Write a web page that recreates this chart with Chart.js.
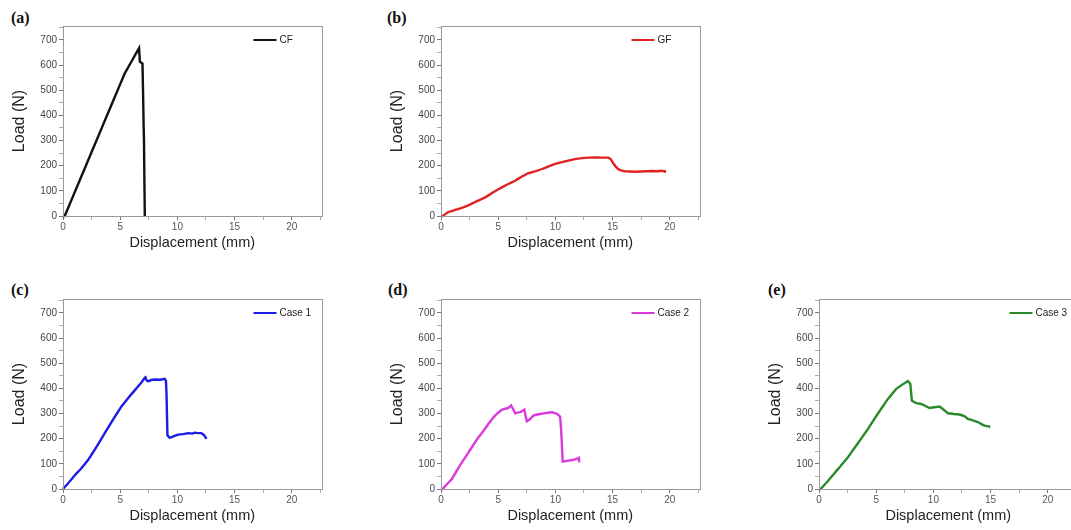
<!DOCTYPE html>
<html>
<head>
<meta charset="utf-8">
<script src="https://cdn.jsdelivr.net/npm/chart.js@4.4.1/dist/chart.umd.min.js"></script>
<style>
  html, body { margin: 0; padding: 0; background: #fff; overflow: hidden; }
  body { width: 1071px; height: 530px; position: relative; }
  canvas { position: absolute; }
  .tag { position: absolute; font: bold 16px "Liberation Serif", "Times New Roman", serif; line-height: 16px; color: #111; }
</style>
</head>
<body>
<div class="tag" style="left:11px;top:10px">(a)</div>
<div class="tag" style="left:387px;top:10px">(b)</div>
<div class="tag" style="left:11px;top:282px">(c)</div>
<div class="tag" style="left:388px;top:282px">(d)</div>
<div class="tag" style="left:768px;top:282px">(e)</div>
<canvas id="chartA" width="335" height="265" style="left:0px;top:0px"></canvas>
<canvas id="chartB" width="335" height="265" style="left:378px;top:0px"></canvas>
<canvas id="chartC" width="335" height="265" style="left:0px;top:273px"></canvas>
<canvas id="chartD" width="335" height="265" style="left:378px;top:273px"></canvas>
<canvas id="chartE" width="335" height="265" style="left:756px;top:273px"></canvas>
<script>
// axis ticks (major get a label, minor only a tick mark)
const dispTicks = [0, 2.5, 5, 7.5, 10, 12.5, 15, 17.5, 20, 22.5];
const dispMajor = [0, 5, 10, 15, 20];
const loadTicks = [0, 50, 100, 150, 200, 250, 300, 350, 400, 450, 500, 550, 600, 650, 700, 750];
const loadMajor = [0, 100, 200, 300, 400, 500, 600, 700];

// (a) CF
const cfX = [0, 0.15, 1, 2, 3, 4, 5, 5.4, 6, 6.65, 6.72, 6.95, 7.0, 7.05, 7.08, 7.12, 7.15];
const cfY = [0, 0, 92, 200, 308, 416, 524, 567, 615, 667, 612, 607, 490, 355, 300, 130, 0];

// (b) GF
const gfX = [0, 0.14, 0.6, 1.25, 2.0, 2.56, 3.2, 3.86, 4.5, 5.17, 5.8, 6.48, 7.0, 7.64, 8.2, 8.8, 9.4, 9.97, 10.5, 11.13, 11.7, 12.3, 12.9, 13.46, 14.0, 14.62, 14.85, 15.05, 15.3, 15.5, 15.8, 16.07, 16.5, 16.95, 17.5, 18.0, 18.4, 19.0, 19.3, 19.56, 19.6];
const gfY = [0, 0, 15, 24, 35, 46, 60, 74, 92, 110, 125, 140, 155, 170, 177, 186, 197, 207, 213, 220, 226, 230, 232, 233, 232, 232, 225, 210, 195, 186, 180, 178, 177, 176, 177, 178, 179, 178, 180, 176, 182];

// (c) Case 1
const c1X = [0, 0.09, 0.5, 1.02, 1.6, 2.19, 2.9, 3.65, 4.4, 5.11, 5.7, 6.27, 6.8, 7.2, 7.3, 7.44, 7.7, 8.02, 8.5, 8.9, 9.0, 9.05, 9.13, 9.34, 9.7, 10.06, 10.5, 10.94, 11.3, 11.52, 11.8, 12.1, 12.35, 12.54];
const c1Y = [0, 5, 25, 54, 82, 115, 165, 222, 278, 328, 362, 392, 420, 445, 432, 428, 433, 435, 434, 438, 430, 378, 213, 203, 210, 216, 218, 222, 220, 224, 222, 222, 213, 199];

// (d) Case 2
const c2X = [0, 0.14, 0.5, 0.96, 1.6, 2.41, 2.9, 3.28, 3.7, 4.15, 4.5, 4.88, 5.32, 5.61, 5.9, 6.13, 6.3, 6.48, 6.92, 7.29, 7.4, 7.5, 7.8, 8.08, 8.4, 8.81, 9.2, 9.68, 10.12, 10.41, 10.5, 10.55, 10.64, 11.13, 11.5, 11.86, 12.06, 12.08];
const c2Y = [0, 0, 18, 40, 90, 146, 180, 206, 230, 259, 280, 299, 315, 319, 322, 332, 318, 301, 305, 315, 290, 269, 278, 292, 296, 299, 302, 305, 299, 288, 240, 193, 109, 113, 115, 120, 124, 106];

// (e) Case 3
const c3X = [0, 0.15, 0.7, 1.3, 1.9, 2.53, 3.1, 3.7, 4.3, 4.86, 5.45, 6.03, 6.76, 7.34, 7.77, 7.98, 8.05, 8.12, 8.51, 8.94, 9.3, 9.67, 10.1, 10.54, 10.83, 11.27, 11.8, 12.29, 12.7, 13.01, 13.5, 13.89, 14.2, 14.47, 14.91, 14.95];
const c3Y = [0, 0, 28, 60, 92, 126, 163, 201, 240, 280, 320, 358, 398, 416, 429, 418, 385, 351, 341, 338, 330, 322, 325, 328, 318, 301, 298, 296, 290, 279, 272, 266, 258, 252, 248, 245];

const SANS = '"Liberation Sans", Arial, sans-serif';
const FRAME = '#9a9a9a';

// box round the plot area (top and right sides too)
const framePlugin = {
    id: 'frame',
    afterDraw(chart) {
        const { ctx, chartArea: a } = chart;
        ctx.save();
        ctx.strokeStyle = FRAME;
        ctx.lineWidth = 1;
        ctx.strokeRect(Math.round(a.left) + 0.5, Math.round(a.top) + 0.5,
            Math.round(a.right - a.left), Math.round(a.bottom - a.top));
        ctx.restore();
    }
};

// small legend in the upper right corner of the plot
const cornerLegend = {
    id: 'cornerLegend',
    afterDraw(chart) {
        const { ctx, chartArea: a } = chart;
        const ds = chart.data.datasets[0];
        const y = a.top + 14;
        ctx.save();
        ctx.strokeStyle = ds.borderColor;
        ctx.lineWidth = 2;
        ctx.beginPath();
        ctx.moveTo(a.right - 68, y);
        ctx.lineTo(a.right - 45, y);
        ctx.stroke();
        ctx.fillStyle = '#222';
        ctx.font = '10px ' + SANS;
        ctx.textBaseline = 'middle';
        ctx.fillText(ds.label, a.right - 42, y);
        ctx.restore();
    }
};

function makeChart(id, label, xs, ys, color) {
    const ctx = document.getElementById(id).getContext('2d');
    return new Chart(ctx, {
        type: 'scatter',
        data: {
            datasets: [{
                label: label,
                data: xs.map((x, i) => ({ x: x, y: ys[i] })),
                showLine: true,
                borderColor: color,
                borderWidth: 2.4,
                pointRadius: 0,
                // tiny tension: keeps straight segments but avoids the fast path
                // that thins out near-vertical drops
                tension: 0.000001,
                clip: false
            }]
        },
        options: {
            responsive: false,
            animation: false,
            layout: { padding: { left: 0, top: 26, right: 13.5, bottom: 0 } },
            plugins: { legend: { display: false }, tooltip: { enabled: false } },
            scales: {
                x: {
                    type: 'linear', min: 0, max: 22.6,
                    afterFit: (s) => { s.height = 49; },
                    afterBuildTicks: (s) => { s.ticks = dispTicks.map(v => ({ value: v })); },
                    ticks: {
                        autoSkip: false, maxRotation: 0, padding: 1,
                        callback: (v) => dispMajor.includes(v) ? String(v) : '',
                        font: { family: SANS, size: 10 }, color: '#555'
                    },
                    grid: {
                        drawOnChartArea: false, tickLength: 4,
                        tickColor: (c) => dispMajor.includes(c.tick && c.tick.value) ? '#777' : '#aaa'
                    },
                    border: { color: FRAME },
                    title: {
                        display: true, text: 'Displacement (mm)', color: '#222',
                        font: { family: SANS, size: 14.5 }, padding: { top: 0, bottom: 13 }
                    }
                },
                y: {
                    type: 'linear', min: 0, max: 755,
                    afterFit: (s) => { s.width = 63; },
                    afterBuildTicks: (s) => { s.ticks = loadTicks.map(v => ({ value: v })); },
                    ticks: {
                        autoSkip: false, padding: 2,
                        callback: (v) => loadMajor.includes(v) ? String(v) : '',
                        font: { family: SANS, size: 10 }, color: '#444'
                    },
                    grid: {
                        drawOnChartArea: false, tickLength: 4,
                        tickColor: (c) => loadMajor.includes(c.tick && c.tick.value) ? '#777' : '#aaa'
                    },
                    border: { color: FRAME },
                    title: {
                        display: true, text: 'Load (N)', color: '#222',
                        font: { family: SANS, size: 16 }, padding: { top: 10, bottom: 0 }
                    }
                }
            }
        },
        plugins: [framePlugin, cornerLegend]
    });
}

makeChart('chartA', 'CF', cfX, cfY, '#111111');
makeChart('chartB', 'GF', gfX, gfY, '#e02222');
makeChart('chartC', 'Case 1', c1X, c1Y, '#1c1ce8');
makeChart('chartD', 'Case 2', c2X, c2Y, '#d93ad9');
makeChart('chartE', 'Case 3', c3X, c3Y, '#2a8a2a');
</script>
</body>
</html>
